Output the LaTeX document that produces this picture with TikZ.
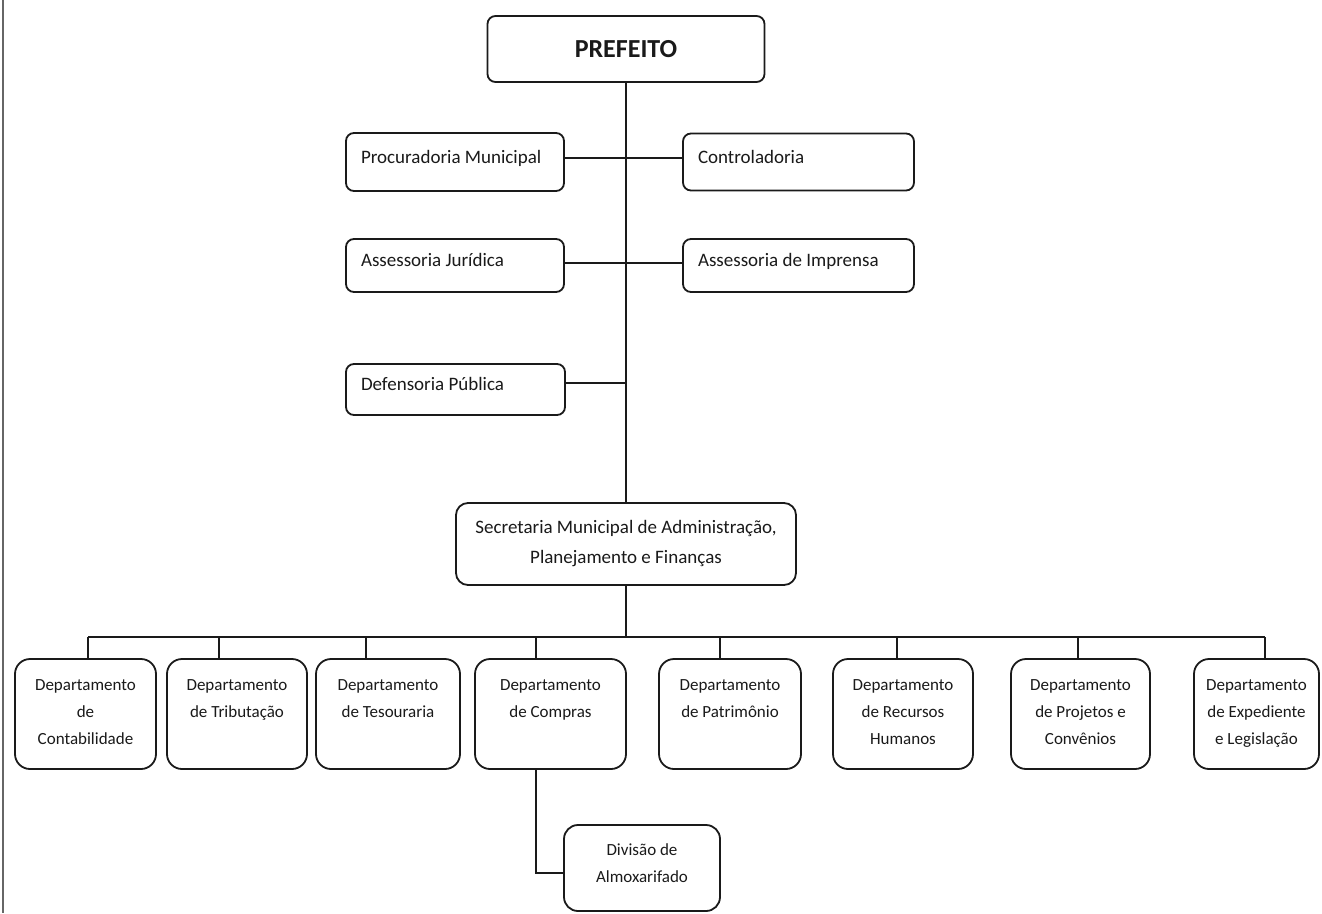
\documentclass[tikz,border=0pt]{standalone}
\usepackage{fontspec}
\setmainfont{Carlito}
\usetikzlibrary{positioning,calc}
\definecolor{ink}{HTML}{1A1A1A}
\definecolor{rulegray}{HTML}{666666}
\tikzset{
  base/.style={draw=ink,text=ink,line width=1.8pt,rounded corners=8pt,fill=white,inner sep=0pt,outer sep=0pt,font=\fontsize{17}{27}\selectfont,execute at begin node={\spaceskip=0pt\relax}},
  chief/.style={base,font=\bfseries\fontsize{26}{30}\selectfont,minimum width=277pt,minimum height=66pt},
  office/.style={base,font=\fontsize{19}{24}\selectfont,minimum width=#1,text width=#1-30pt,align=left,inner xsep=15pt,text height=13pt,text depth=11pt},
  secr/.style={base,rounded corners=12pt,align=center,font=\fontsize{19}{30}\selectfont,minimum width=340pt,minimum height=82pt},
  dept/.style={base,rounded corners=15pt,minimum width=#1,text width=#1-12pt,align=flush center,inner xsep=6pt,inner ysep=18pt,text height=13pt,text depth=61pt},
  unit/.style={base,rounded corners=14pt,minimum width=156pt,text width=140pt,align=flush center,inner xsep=8pt,inner ysep=17pt,text height=13pt,text depth=39pt},
  link/.style={draw=ink,line width=1.6pt},
  boldlink/.style={link,line width=2.4pt},
  margin/.style={draw=rulegray,line width=2.5pt}
}
\begin{document}
\begin{tikzpicture}[x=1pt,y=-1pt]
\useasboundingbox (0,0) rectangle (1322,913);
\draw[margin] (3,0) -- (3,913);

\node[chief] (pref) at (626,49) {PREFEITO};
\node[office=218pt,minimum height=58pt] (proc) at (455,162) {Procuradoria Municipal};
\node[office=231pt,minimum height=57pt,right=119pt of proc] (contr) {Controladoria};
\node[office=218pt,minimum height=53pt] (assj) at (455,265.5) {Assessoria Jurídica};
\node[office=231pt,minimum height=53pt,right=119pt of assj] (assi) {Assessoria de Imprensa};
\node[office=219pt,minimum height=51pt] (def) at (455.5,389.5) {Defensoria Pública};
\node[secr] (sec) at (626,544) {Secretaria Municipal de Administração,\\Planejamento e Finanças};

% departamentos
\node[dept=141pt] (d1) at (85.5,714) {Departamento\\de\\Contabilidade};
\node[dept=140pt,right=11pt of d1] (d2) {Departamento\\de Tributação};
\node[dept=144pt,right=9pt of d2] (d3) {Departamento\\de Tesouraria};
\node[dept=151pt,right=15pt of d3] (d4) {Departamento\\de Compras};
\node[dept=142pt,right=33pt of d4] (d5) {Departamento\\de Patrimônio};
\node[dept=140pt,right=32pt of d5] (d6) {Departamento\\de Recursos\\Humanos};
\node[dept=139pt,right=38pt of d6] (d7) {Departamento\\de Projetos e\\Convênios};
\node[dept=125pt,right=44pt of d7] (d8) {Departamento\\de Expediente\\e Legislação};
\node[unit] (div) at (642,868) {Divisão de\\Almoxarifado};

\draw[link] (pref.south) -- (pref.south |- sec.north);
\draw[link] ([yshift=4pt]proc.east) -- ([yshift=4pt]proc.east -| contr.west);
\draw[boldlink] ([yshift=2.5pt]assj.east) -- ([yshift=2.5pt]assj.east -| assi.west);
\draw[link] ([yshift=6.5pt]def.east) -- ([yshift=6.5pt]def.east -| pref.south);

\coordinate (bus) at (626,637);
\draw[link] (sec.south) -- (bus);
\draw[link] ([xshift=2.5pt]d1.north |- bus) -- ([xshift=8.5pt]d8.north |- bus);
\foreach \d/\dx in {d1/2.5,d2/-18,d3/-22,d4/-14.5,d5/-10,d6/-6,d7/-2.5,d8/8.5}
  \draw[link] ([xshift=\dx pt]\d.north) -- ([xshift=\dx pt]\d.north |- bus);
\draw[link] ([xshift=-14.5pt]d4.south) |- ([yshift=-5pt]div.west);
\end{tikzpicture}
\end{document}
